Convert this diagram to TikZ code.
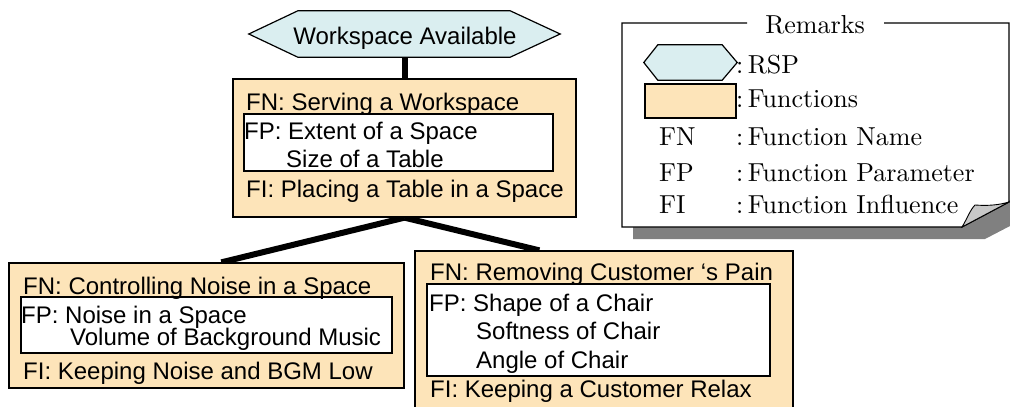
\documentclass[tikz,border=0pt]{standalone}
\usepackage{fontspec}
\newfontfamily\sansf{Liberation Sans}
\newfontfamily\remf{lmroman10-regular}[Extension=.otf]
\usetikzlibrary{backgrounds}
\definecolor{fnfill}{RGB}{253,228,185}
\definecolor{rspfill}{RGB}{218,238,240}
\definecolor{shadowgray}{RGB}{128,128,128}
\definecolor{curlgray}{RGB}{200,200,200}
\begin{document}
\begin{tikzpicture}[x=1pt,y=-1pt,line join=miter,
  fbox/.style={draw=black,line width=1.3pt,fill=fnfill,inner sep=0pt},
  wbox/.style={draw=black,line width=1.2pt,fill=white,inner sep=0pt},
  hexline/.style={draw=black,line width=1.2pt,fill=rspfill},
  conn/.style={line width=6pt,black},
  sans/.style={font=\sansf\fontsize{24}{29}\selectfont,anchor=base west,inner sep=0pt},
  serif/.style={font=\remf\fontsize{26}{31}\selectfont,anchor=base west,inner sep=0pt}]
\useasboundingbox (0,0) rectangle (1010,407);
\clip (0,0) rectangle (1010,407);

% RSP hexagon
\node[inner sep=0pt,minimum width=311pt,minimum height=46pt] (rsp) at (404.5,34) {};
\draw[hexline] (rsp.west) -- ([xshift=49pt]rsp.north west) -- ([xshift=-50pt]rsp.north east)
  -- (rsp.east) -- ([xshift=-50pt]rsp.south east) -- ([xshift=49pt]rsp.south west) -- cycle;
\node[font=\sansf\fontsize{24}{29}\selectfont,anchor=base,inner sep=0pt] (rsptext) at (405,44) {Workspace Available};

% function boxes
\node[fbox,minimum width=343pt,minimum height=138pt] (f1) at (404.5,148) {};
\node[wbox,minimum width=309pt,minimum height=57pt] (w1) at (398.5,142.5) {};
\node[fbox,minimum width=395pt,minimum height=125pt] (f2) at (206.5,325.5) {};
\node[wbox,minimum width=371pt,minimum height=56pt] (w2) at (206.5,325) {};
\node[fbox,minimum width=378pt,minimum height=179pt] (f3) at (604,340.5) {};
\node[wbox,minimum width=343pt,minimum height=92pt] (w3) at (598.5,330) {};

% connectors
\begin{pgfonlayer}{background}
\draw[conn] (rsp.south) -- (f1.north);
\draw[conn] (f1.south) -- ([xshift=213pt]f2.north west);
\draw[conn] (f1.south) -- ([xshift=125pt]f3.north west);
\end{pgfonlayer}

% texts top box
\node[sans] (t1a) at (246,110) {FN: Serving a Workspace};
\node[sans] (t1b) at (244,139) {FP: Extent of a Space};
\node[sans] (t1c) at (286,167) {Size of a Table};
\node[sans] (t1d) at (246,197) {FI: Placing a Table in a Space};
% texts left box
\node[sans] (t2a) at (23,294) {FN: Controlling Noise in a Space};
\node[sans] (t2b) at (21,323) {FP: Noise in a Space};
\node[sans] (t2c) at (70,345) {Volume of Background Music};
\node[sans] (t2d) at (23,379) {FI: Keeping Noise and BGM Low};
% texts right box
\node[sans] (t3a) at (430,280) {FN: Removing Customer ‘s Pain};
\node[sans] (t3b) at (429,311) {FP: Shape of a Chair};
\node[sans] (t3c) at (476,339) {Softness of Chair};
\node[sans] (t3d) at (476,368) {Angle of Chair};
\node[sans] (t3e) at (430,397) {FI: Keeping a Customer Relax};

% remarks
\fill[shadowgray] (633,227) -- (962,227) -- (1010,200) -- (1010,226) -- (985,239) -- (633,239) -- cycle;
\fill[white] (622,23) -- (1009,23) -- (1009,202) -- (962,227) -- (622,227) -- cycle;
\draw[line width=1.2pt] (747,23) -- (622,23) -- (622,227) -- (962,227) -- (1009,202) -- (1009,23) -- (884,23);
\filldraw[fill=curlgray,draw=black,line width=0.9pt] (962,227) .. controls (967,219) and (970,210) .. (975,205)
  .. controls (988,206) and (999,205) .. (1009,202) -- cycle;
\node[serif,anchor=base] (remt) at (815,33) {Remarks};

\node[inner sep=0pt,minimum width=93pt,minimum height=35pt] (legrsp) at (690.5,62.5) {};
\draw[hexline] (legrsp.west) -- ([xshift=14pt]legrsp.north west) -- ([xshift=-15pt]legrsp.north east)
  -- (legrsp.east) -- ([xshift=-15pt]legrsp.south east) -- ([xshift=14pt]legrsp.south west) -- cycle;
\node[fbox,line width=1.2pt,minimum width=91pt,minimum height=34pt] (legfn) at (690.5,101) {};

\node[serif] (r1) at (736,73) {:\,RSP};
\node[serif] (r2) at (736,107) {:\,Functions};
\node[serif] (r3a) at (659,145) {FN};
\node[serif] (r3b) at (736,145) {:\,Function Name};
\node[serif] (r4a) at (659,181) {FP};
\node[serif] (r4b) at (736,181) {:\,Function Parameter};
\node[serif] (r5a) at (659,213) {FI};
\node[serif] (r5b) at (736,213) {:\,Function Influence};
\end{tikzpicture}
\end{document}
